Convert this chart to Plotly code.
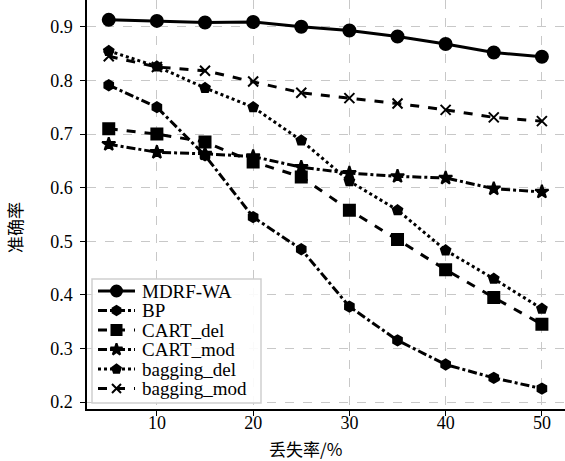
import plotly.graph_objects as go

loss_rate = [5, 10, 15, 20, 25, 30, 35, 40, 45, 50]

mdrf_wa = [0.913, 0.911, 0.908, 0.909, 0.900, 0.893, 0.882, 0.868, 0.852, 0.844]
bp = [0.791, 0.750, 0.660, 0.545, 0.485, 0.378, 0.315, 0.270, 0.245, 0.225]
cart_del = [0.710, 0.700, 0.685, 0.648, 0.620, 0.558, 0.503, 0.447, 0.395, 0.345]
cart_mod = [0.681, 0.666, 0.663, 0.658, 0.638, 0.627, 0.621, 0.618, 0.598, 0.592]
bagging_del = [0.855, 0.826, 0.786, 0.750, 0.688, 0.612, 0.558, 0.483, 0.430, 0.374]
bagging_mod = [0.845, 0.825, 0.818, 0.798, 0.777, 0.767, 0.757, 0.745, 0.731, 0.724]

series_names = ["MDRF-WA", "BP", "CART_del", "CART_mod", "bagging_del", "bagging_mod"]
series_values = [mdrf_wa, bp, cart_del, cart_mod, bagging_del, bagging_mod]
x_ticks = [10, 20, 30, 40, 50]
y_ticks = [0.2, 0.3, 0.4, 0.5, 0.6, 0.7, 0.8, 0.9]

styles = [
    ("solid", "circle", 12),
    ("dashdot", "hexagon", 10),
    ("dash", "square", 11),
    ("dashdot", "star", 10),
    ("dot", "pentagon", 10),
    ("dash", "x-thin-open", 10),
]

# plot area in pixels: left 87, right 565, top 0, bottom 409
W, H = 565, 461
L, R, T, B = 87, 0, 0, 52
PX0, PX1, PY0, PY1 = L, W - R, T, H - B
X_RANGE = [2.74, 52.4]
Y_RANGE = [0.187, 0.95]


def fx(px):
    return (px - PX0) / (PX1 - PX0)


def fy(py):
    return (PY1 - py) / (PY1 - PY0)


def dx(px):
    return X_RANGE[0] + fx(px) * (X_RANGE[1] - X_RANGE[0])


def dy(py):
    return Y_RANGE[0] + fy(py) * (Y_RANGE[1] - Y_RANGE[0])


fig = go.Figure()
for name, ys, (dash, symbol, size) in zip(series_names, series_values, styles):
    fig.add_trace(go.Scatter(
        x=loss_rate, y=ys, name=name, mode="lines+markers", showlegend=False,
        line=dict(color="black", width=3, dash=dash),
        marker=dict(symbol=symbol, size=size, color="black",
                    line=dict(color="black", width=2)),
    ))

# legend box (above gridlines, below traces)
leg_box = (92, 279, 261, 403)
leg_rows = [291, 310.5, 330, 349.5, 369, 388.5]
fig.add_shape(type="rect", xref="x", yref="y",
              x0=dx(leg_box[0]), y0=dy(leg_box[1]), x1=dx(leg_box[2]), y1=dy(leg_box[3]),
              fillcolor="rgba(255,255,255,0.9)", line=dict(color="#cfcfcf", width=1.5),
              layer="between")

# legend samples
for name, (dash, symbol, size), ry in zip(series_names, styles, leg_rows):
    fig.add_trace(go.Scatter(
        x=[dx(98), dx(135)], y=[dy(ry), dy(ry)], mode="lines",
        line=dict(color="black", width=3, dash=dash), showlegend=False, hoverinfo="skip",
    ))
    fig.add_trace(go.Scatter(
        x=[dx(116.5)], y=[dy(ry)], mode="markers",
        marker=dict(symbol=symbol, size=size - 1, color="black",
                    line=dict(color="black", width=2)),
        showlegend=False, hoverinfo="skip",
    ))
    fig.add_annotation(x=fx(140), y=fy(ry), xref="paper", yref="paper", text=name,
                       showarrow=False, xanchor="left", yanchor="middle",
                       font=dict(family="Liberation Serif", size=19, color="black"))

# axis titles
fig.add_annotation(x=fx(305), y=fy(448), xref="paper", yref="paper", text="丢失率/%",
                   showarrow=False, xanchor="center", yanchor="middle",
                   font=dict(family="Noto Sans CJK SC", size=17, color="black"))
fig.add_annotation(x=fx(14), y=fy(228), xref="paper", yref="paper", text="准确率",
                   showarrow=False, textangle=-90, xanchor="center", yanchor="middle",
                   font=dict(family="Noto Sans CJK SC", size=17, color="black"))

axis_font = dict(family="Liberation Serif", size=18, color="black")
fig.update_layout(
    width=W, height=H,
    margin=dict(l=L, r=R, t=T, b=B),
    paper_bgcolor="white", plot_bgcolor="white",
    font=dict(family="Liberation Serif", color="black"),
    showlegend=False,
    xaxis=dict(
        range=X_RANGE, tickvals=x_ticks,
        showgrid=True, gridcolor="#c8c8c8", griddash="dash", gridwidth=1,
        showline=True, linecolor="black", linewidth=1.5,
        ticks="outside", ticklen=5, tickcolor="black",
        tickfont=axis_font, zeroline=False, ticklabelstandoff=-8,
    ),
    yaxis=dict(
        range=Y_RANGE, tickvals=y_ticks, tickformat=".1f",
        showgrid=True, gridcolor="#c8c8c8", griddash="dash", gridwidth=1,
        showline=True, linecolor="black", linewidth=1.5,
        ticks="outside", ticklen=5, tickcolor="black",
        tickfont=axis_font, zeroline=False, ticklabelstandoff=4,
    ),
)

fig.write_html("out.html")
